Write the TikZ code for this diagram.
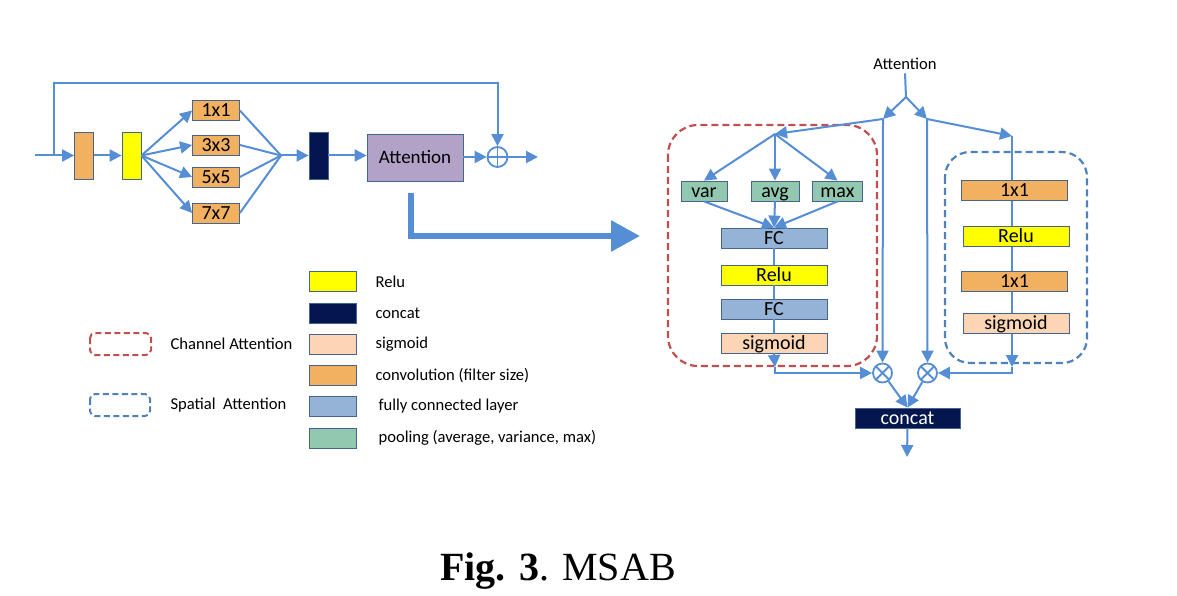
\documentclass[tikz,border=0pt]{standalone}
\usepackage{fontspec}
\setmainfont{Carlito}
\newfontfamily\capfont{Liberation Serif}
\usepackage{tikz}
\usetikzlibrary{calc,arrows.meta}
\usepackage{xcolor}

\definecolor{arrowblue}{RGB}{85,142,213}
\definecolor{boxline}{RGB}{70,100,140}
\definecolor{convcol}{RGB}{241,177,97}
\definecolor{relucol}{RGB}{255,255,0}
\definecolor{catcol}{RGB}{4,22,78}
\definecolor{sigcol}{RGB}{252,213,181}
\definecolor{fccol}{RGB}{149,179,215}
\definecolor{poolcol}{RGB}{146,200,175}
\definecolor{attcol}{RGB}{179,162,199}
\definecolor{chred}{RGB}{192,80,77}
\definecolor{spblue}{RGB}{79,129,189}

\tikzset{
	box/.style={draw=boxline, line width=0.8pt, inner sep=0pt, minimum width=47pt, minimum height=20pt, text height=13.6pt, text depth=1pt, font=\fontsize{20}{20}\selectfont},
	wide/.style={box, minimum width=106pt},
	conv/.style={box, fill=convcol},
	relu/.style={box, fill=relucol},
	sigm/.style={box, fill=sigcol},
	fc/.style={box, fill=fccol},
	pool/.style={box, fill=poolcol},
	cat/.style={box, fill=catcol, text=white},
	arr/.style={draw=arrowblue, line width=2pt, -{Triangle[length=12pt,width=12pt]}},
	ln/.style={draw=arrowblue, line width=2pt},
	opplus/.style={circle, draw=arrowblue, line width=1.8pt, minimum size=20pt, inner sep=0pt,
		path picture={\draw[arrowblue, line width=1.8pt] (path picture bounding box.north) -- (path picture bounding box.south) (path picture bounding box.west) -- (path picture bounding box.east);}},
	optimes/.style={circle, draw=arrowblue, line width=1.8pt, minimum size=19pt, inner sep=0pt,
		path picture={\draw[arrowblue, line width=1.8pt] (path picture bounding box.north west) -- (path picture bounding box.south east) (path picture bounding box.south west) -- (path picture bounding box.north east);}},
	legtext/.style={anchor=west, font=\fontsize{16.6}{16.6}\selectfont},
}

\begin{document}
\begin{tikzpicture}[x=1pt,y=-1pt]
		\useasboundingbox (0,0) rectangle (1177,596);
		
		% block chain on the left
		\def\ym{155.5}
		\node[conv, minimum width=19pt, minimum height=47pt] (conv0) at (84,\ym) {};
		\node[relu, minimum width=19pt, minimum height=47pt] (relu0) at (131.5,\ym) {};
		\node[conv] (b1) at (216,110.5) {1x1};
		\node[conv] (b3) at (216,145) {3x3};
		\node[conv] (b5) at (216,177) {5x5};
		\node[conv] (b7) at (216,213) {7x7};
		\coordinate (fan) at (281,\ym);
		\node[cat, minimum width=19pt, minimum height=47pt] (cat0) at (318.5,\ym) {};
		\node[box, fill=attcol, minimum width=96pt, minimum height=47pt, font=\fontsize{19}{19}\selectfont] (att) at (415,157.5) {Attention};
		\node[opplus] (op) at (497.5,157) {};
		\coordinate (in) at (35,\ym);
		\coordinate (sk) at (53.5,\ym);
		\coordinate (sktop) at (53.5,83.5);
		\coordinate (out0) at (538,157);
		
		\draw[arr] (in) -- (conv0.west);
		\draw[arr] (sk) -- (sktop) -| (op.north);
		\draw[arr] (conv0.east) -- (relu0.west);
		\foreach \b in {b1,b3,b5,b7} {
			\draw[arr] (relu0.east) -- (\b.west);
			\draw[ln] (\b.east) -- (fan);
		}
		\draw[arr] (fan) -- (cat0.west);
		\draw[arr] (cat0.east) -- (att.west |- cat0.east);
		\draw[arr] (att.east |- op.west) -- (op.west);
		\draw[arr] (op.east) -- (out0);
		
		% big arrow
		\coordinate (bigS) at (411,193);
		\coordinate (bigC) at (411,236);
		\coordinate (bigE) at (640,236);
		\draw[arrowblue, line width=6pt, -{Triangle[length=29pt,width=30pt]}] (bigS) -- (bigC) -- (bigE);
		
		% legend
		\draw[chred, line width=2pt, dashed, dash pattern=on 6pt off 3.5pt, rounded corners=5pt] (90,333) rectangle (151,355);
		\draw[spblue, line width=2pt, dashed, dash pattern=on 6pt off 3.5pt, rounded corners=5pt] (90,394) rectangle (150,416);
		\node[legtext] (lch) at (167,343.5) {Channel Attention};
		\node[legtext] (lsp) at (167,405) {Spatial\ \ Attention};
		\foreach \c/\t/\y/\dx in {relucol/Relu/281.5/0, catcol/concat/313.5/0, sigcol/sigmoid/344/0, convcol/convolution (filter size)/375.5/0, fccol/fully connected layer/406.5/3, poolcol/{pooling (average, variance, max)}/438/3} {
			\node[box, fill=\c] (k\y) at (332.5,\y) {};
			\node[legtext] at (372+\dx,\y) {\t};
		}
		
		% attention module on the right
		\node[font=\fontsize{16.6}{16.6}\selectfont] (attlbl) at (905,64) {Attention};
		\coordinate (sp) at (906,97);
		\coordinate (ca) at (883,119);
		\coordinate (sa) at (927,119);
		\coordinate (cf) at (775,134);
		\coordinate (sb) at (1012,136);
		\draw[ln] (attlbl.south) -- (sp);
		\draw[arr] (sp) -- (ca);
		\draw[arr] (sp) -- (sa);
		
		\draw[chred, line width=2.2pt, dash pattern=on 7pt off 4pt, rounded corners=30pt] (668,125) rectangle (877,366);
		\draw[spblue, line width=2.2pt, dash pattern=on 7pt off 4pt, rounded corners=25pt] (945,152) rectangle (1087,363);
		
		\node[pool, minimum width=46pt] (var) at (704,191) {var};
		\node[pool, minimum width=48pt] (avg) at (775,191) {avg};
		\node[pool, minimum width=50pt] (max) at (837.5,191) {max};
		\node[wide, fill=fccol] (fc1) at (774,238) {FC};
		\node[wide, fill=relucol] (relu1) at (774,275) {Relu};
		\node[wide, fill=fccol] (fc2) at (774,309) {FC};
		\node[wide, fill=sigcol] (sig1) at (774,343) {sigmoid};
		\node[optimes] (om1) at (882.5,373) {};
		\node[optimes] (om2) at (927.5,373) {};
		\coordinate (cb) at (775,367);
		\coordinate (sd) at (1012,367);
		
		\draw[arr] (ca) -- (cf);
		\foreach \p in {var,avg,max} {
			\draw[arr] (cf) -- (\p.north);
			\draw[arr] (\p.south) -- (fc1.north);
		}
		\draw[ln] (fc1) -- (relu1) (relu1) -- (fc2) (fc2) -- (sig1);
		\draw[arr] (sig1.south) -- (cb);
		\draw[arr] (cb) |- (om1.west);
		\draw[arr] (ca) -- (om1.north);
		\draw[arr] (sa) -- (om2.north);
		\draw[arr] (sa) -- (sb);
		\draw[arr] (sb) -- (sd);
		\draw[arr] (sd) |- (om2.east);
		
		\node[wide, fill=convcol] (s1) at (1014.5,190.5) {1x1};
		\node[wide, fill=relucol] (s2) at (1016,236) {Relu};
		\node[wide, fill=convcol] (s3) at (1014.5,281.5) {1x1};
		\node[wide, fill=sigcol] (s4) at (1016,323.5) {sigmoid};
		
		\node[wide, fill=catcol, text=white, minimum width=105pt] (cat1) at (907.5,418) {concat};
		\coordinate (out1) at (907,457);
		\draw[arr] (om1) -- (cat1.north);
		\draw[arr] (om2) -- (cat1.north);
		\draw[arr] (cat1.south) -- (out1);
		
		% caption
		\node[anchor=base, font=\capfont\fontsize{40}{40}\selectfont, inner sep=0pt] (cap) at (558,580) {\textbf{Fig. 3}. MSAB};
\end{tikzpicture}
\end{document}
